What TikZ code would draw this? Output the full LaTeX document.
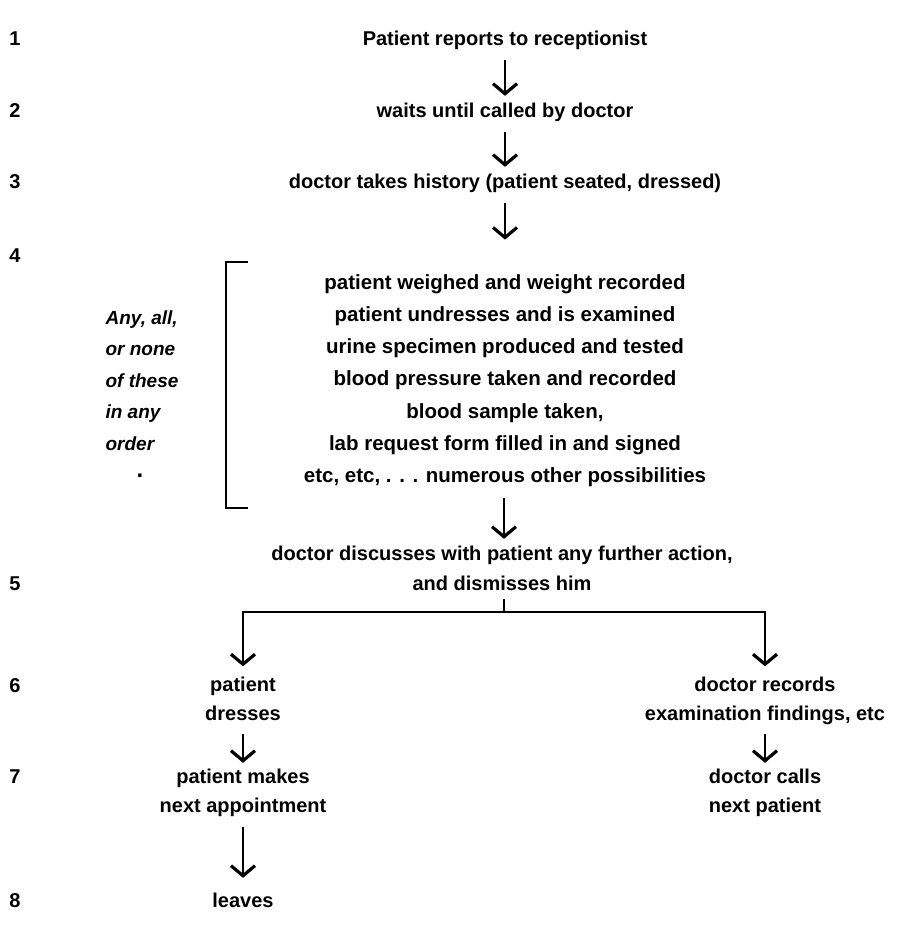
\documentclass[tikz,border=0pt]{standalone}
\usepackage{fontspec}
\setmainfont{Liberation Sans}
\usetikzlibrary{arrows.meta}
\tikzset{
  txt/.style={font=\fontsize{20}{30}\selectfont\bfseries, inner sep=0pt, align=center},
  num/.style={font=\fontsize{20}{30}\selectfont\bfseries, inner sep=0pt},
  side/.style={font=\fontsize{19}{31.5}\selectfont\bfseries\itshape, inner sep=0pt, align=left},
  arr/.style={line width=1.4pt, shorten <=6pt, -{Straight Barb[length=10pt,width=24pt,line width=3.2pt]}},
  conn/.style={line width=1.4pt},
}
\begin{document}
\begin{tikzpicture}[x=1pt,y=-1pt]
\useasboundingbox (0,0) rectangle (910,929);
% step numbers
\node[num] (n1) at (15,39)  {1};
\node[num] (n2) at (15,111) {2};
\node[num] (n3) at (15,182) {3};
\node[num] (n4) at (15,256) {4};
\node[num] (n5) at (15,584) {5};
\node[num] (n6) at (15,686) {6};
\node[num] (n7) at (15,777) {7};
\node[num] (n8) at (15,901) {8};
% main column
\node[txt] (t1) at (505,39)  {\strut Patient reports to receptionist};
\node[txt] (t2) at (505,111) {\strut waits until called by doctor};
\node[txt] (t3) at (505,182) {\strut doctor takes history (patient seated, dressed)};
\node[txt, font=\fontsize{20.5}{32.2}\selectfont\bfseries] (t4) at (505,379.5) {\strut patient weighed and weight recorded\\
\strut patient undresses and is examined\\
\strut urine specimen produced and tested\\
\strut blood pressure taken and recorded\\
\strut blood sample taken,\\
\strut lab request form filled in and signed\\
\strut etc, etc, . . . numerous other possibilities};
\node[side] (side) at (142,381) {\strut Any, all,\\ \strut or none\\ \strut of these\\ \strut in any\\ \strut order};
\node[side, font=\fontsize{24}{30}\selectfont\bfseries] (dot) at (140,476) {.};
\draw[conn, line width=1.6pt] (248,262) -- (226,262) -- (226,508) -- (248,508);
\node[txt] (t5) at (502,569) {\strut doctor discusses with patient any further action,\\ \strut and dismisses him};
\coordinate (j) at (504,612);
% left column
\node[txt, font=\fontsize{20}{29}\selectfont\bfseries] (t6a) at (243,700.5) {\strut patient\\ \strut dresses};
\node[txt, font=\fontsize{20}{29}\selectfont\bfseries] (t7a) at (243,792) {\strut patient makes\\ \strut next appointment};
\node[txt] (t8) at (243,901) {\strut leaves};
% right column
\node[txt, font=\fontsize{20}{29}\selectfont\bfseries] (t6b) at (765,700.5) {\strut doctor records\\ \strut examination findings, etc};
\node[txt, font=\fontsize{20}{29}\selectfont\bfseries] (t7b) at (765,792) {\strut doctor calls\\ \strut next patient};
% connectors
\draw[arr] (t1) -- (t2);
\draw[arr] (t2) -- (t3);
\draw[arr, shorten >=27pt] (t3) -- (t4);
\draw[arr] (t4.south -| j) -- (t5.north -| j);
\draw[conn] (t5.south -| j) -- (j);
\draw[arr, shorten <=0pt, shorten >=5pt] (j) -| (t6a);
\draw[arr, shorten <=0pt, shorten >=5pt] (j) -| (t6b);
\draw[arr, shorten <=4pt] (t6a) -- (t7a);
\draw[arr, shorten >=8pt] (t7a) -- (t8);
\draw[arr, shorten <=4pt] (t6b) -- (t7b);
\end{tikzpicture}
\end{document}
